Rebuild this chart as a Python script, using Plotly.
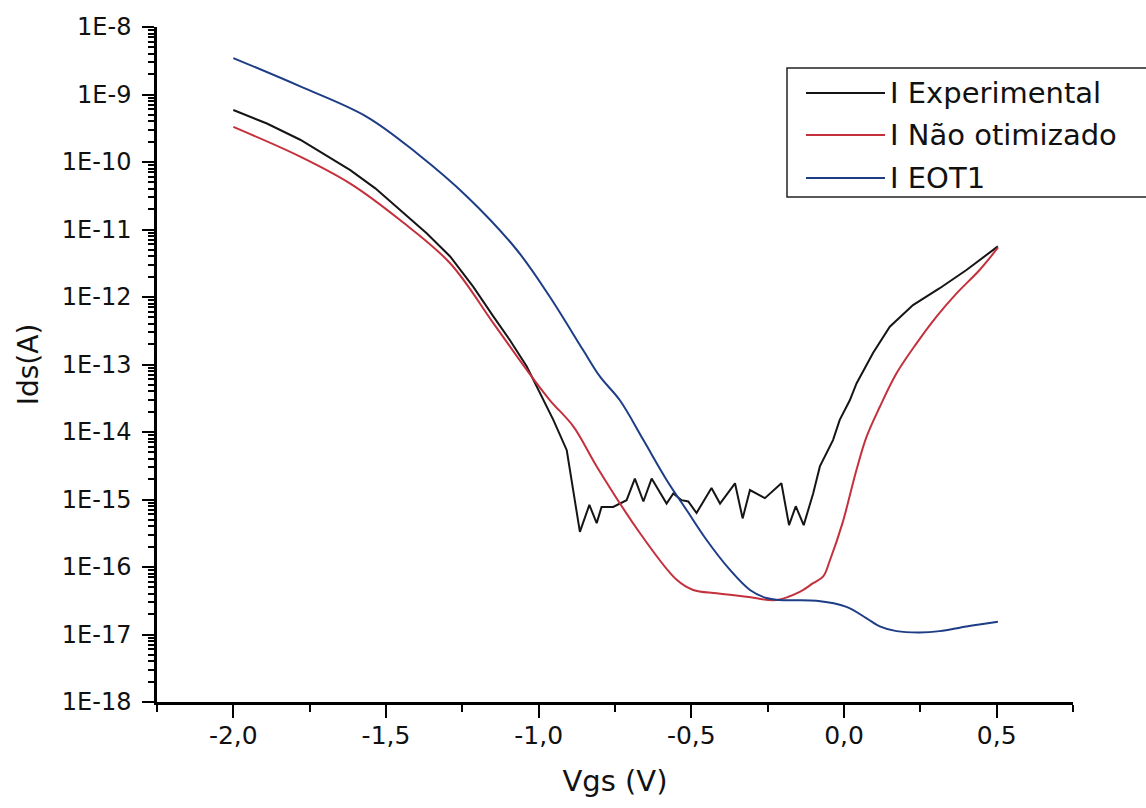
import numpy as np
import plotly.graph_objects as go

# ---------------- data ----------------
# Vgs in volts, Ids as log10(A)
vgs_exp = [-2.0, -1.89, -1.781, -1.699, -1.617, -1.535, -1.454, -1.366, -1.29, -1.214,
           -1.148, -1.094, -1.039, -0.995, -0.952, -0.908, -0.881, -0.865, -0.834, -0.810,
           -0.794, -0.756, -0.712, -0.685, -0.657, -0.630, -0.581, -0.559, -0.532, -0.510,
           -0.483, -0.434, -0.406, -0.357, -0.332, -0.308, -0.259, -0.205, -0.180, -0.158,
           -0.132, -0.101, -0.079, -0.057, -0.036, -0.014, 0.019, 0.041, 0.095, 0.150,
           0.226, 0.3135, 0.401, 0.504]
log_ids_exp = [-9.23, -9.43, -9.67, -9.90, -10.12, -10.39, -10.71, -11.06, -11.40, -11.85,
               -12.29, -12.64, -13.03, -13.43, -13.82, -14.27, -15.01, -15.48, -15.08, -15.35,
               -15.11, -15.11, -15.01, -14.69, -15.03, -14.69, -15.06, -14.91, -15.01, -15.03,
               -15.20, -14.83, -15.06, -14.76, -15.28, -14.86, -14.98, -14.76, -15.38, -15.10,
               -15.38, -14.91, -14.51, -14.32, -14.12, -13.82, -13.53, -13.28, -12.83, -12.44,
               -12.12, -11.87, -11.60, -11.25]

vgs_nao = [-2.0, -1.781, -1.617, -1.454, -1.29, -1.148, -1.039, -0.963, -0.886, -0.810,
           -0.668, -0.548, -0.494, -0.417, -0.319, -0.221, -0.145, -0.101, -0.068, -0.046,
           -0.005, 0.041, 0.074, 0.117, 0.172, 0.237, 0.303, 0.368, 0.444, 0.504]
log_ids_nao = [-9.48, -9.92, -10.32, -10.86, -11.50, -12.39, -13.08, -13.53, -13.92, -14.51,
               -15.50, -16.19, -16.34, -16.39, -16.44, -16.49, -16.37, -16.24, -16.14, -15.90,
               -15.35, -14.56, -14.07, -13.63, -13.13, -12.69, -12.29, -11.95, -11.60, -11.27]

vgs_eot1 = [-2.0, -1.781, -1.563, -1.399, -1.235, -1.072, -0.963, -0.854, -0.799, -0.734,
            -0.657, -0.581, -0.515, -0.450, -0.374, -0.308, -0.254, -0.21, -0.09, 0.008,
            0.074, 0.117, 0.172, 0.248, 0.3135, 0.401, 0.504]
log_ids_eot1 = [-8.46, -8.88, -9.33, -9.87, -10.51, -11.30, -12.00, -12.79, -13.18, -13.53,
                -14.12, -14.71, -15.16, -15.60, -16.04, -16.34, -16.46, -16.49, -16.50, -16.59,
                -16.76, -16.88, -16.95, -16.97, -16.95, -16.88, -16.81]

series_names = ["I Experimental", "I Não otimizado", "I EOT1"]
series_colors = ["#151515", "#c4303c", "#1d3d86"]

x_tick_vals = [-2.0, -1.5, -1.0, -0.5, 0.0, 0.5]
x_tick_text = ["-2,0", "-1,5", "-1,0", "-0,5", "0,0", "0,5"]
y_tick_vals = [1e-18, 1e-17, 1e-16, 1e-15, 1e-14, 1e-13, 1e-12, 1e-11, 1e-10, 1e-9, 1e-8]
y_tick_text = ["1E-18", "1E-17", "1E-16", "1E-15", "1E-14", "1E-13", "1E-12",
               "1E-11", "1E-10", "1E-9", "1E-8"]

# ---------------- figure ----------------
FONT = "DejaVu Sans"
W, H = 1146, 808
ML, MR, MT, MB = 157, 73, 27, 106

fig = go.Figure()
all_x = [vgs_exp, vgs_nao, vgs_eot1]
all_y = [log_ids_exp, log_ids_nao, log_ids_eot1]
shapes_ = ["linear", "spline", "spline"]
for xs, ys, name, col, shp in zip(all_x, all_y, series_names, series_colors, shapes_):
    fig.add_trace(go.Scatter(
        x=xs, y=[10 ** v for v in ys], mode="lines", name=name,
        line=dict(color=col, width=2, shape=shp, smoothing=1.0),
        showlegend=False,
    ))

x_minor = [v for v in np.arange(-2.25, 0.76, 0.25) if abs(v * 2 - round(v * 2)) > 1e-6]
y_minor = [k * 10.0 ** e for e in range(-18, -8) for k in range(2, 10)]

fig.update_xaxes(
    range=[-2.25, 0.75], showgrid=False, zeroline=False,
    showline=True, linecolor="black", linewidth=2.5,
    ticks="outside", ticklen=13, tickwidth=2, tickcolor="black",
    tickmode="array", tickvals=x_tick_vals, ticktext=x_tick_text,
    tickfont=dict(family=FONT, size=25, color="#111"),
    ticklabelstandoff=-4,
    minor=dict(tickmode="array", tickvals=x_minor, ticks="outside", ticklen=7,
               tickwidth=2, tickcolor="black"),
    title=dict(text="Vgs (V)", font=dict(family=FONT, size=29, color="#111"), standoff=22),
)
fig.update_yaxes(
    type="log", range=[-18, -8], showgrid=False, zeroline=False,
    showline=True, linecolor="black", linewidth=2.5,
    ticks="outside", ticklen=12, tickwidth=2, tickcolor="black",
    tickmode="array", tickvals=y_tick_vals, ticktext=y_tick_text,
    tickfont=dict(family=FONT, size=24, color="#111"),
    ticklabelstandoff=6,
    minor=dict(tickmode="array", tickvals=y_minor, ticks="outside", ticklen=6,
               tickwidth=1.5, tickcolor="black"),
    title=dict(text="Ids(A)", font=dict(family=FONT, size=28, color="#111"), standoff=16),
)

# ---------------- legend (drawn in paper coordinates) ----------------
pw, ph = W - ML - MR, H - MT - MB
def px_x(p):
    return (p - ML) / pw
def px_y(p):
    return (H - MB - p) / ph

shapes = [dict(type="rect", xref="paper", yref="paper",
               x0=px_x(787), x1=px_x(1152), y0=px_y(197), y1=px_y(68),
               line=dict(color="#222", width=1.5), fillcolor="rgba(0,0,0,0)")]
annotations = []
row_y = [93, 135, 178]
for ry, name, col in zip(row_y, series_names, series_colors):
    shapes.append(dict(type="line", xref="paper", yref="paper",
                       x0=px_x(806), x1=px_x(885), y0=px_y(ry), y1=px_y(ry),
                       line=dict(color=col, width=2)))
    annotations.append(dict(xref="paper", yref="paper", x=px_x(888), y=px_y(ry),
                            text=name, showarrow=False, xanchor="left", yanchor="middle",
                            font=dict(family=FONT, size=29, color="#111")))

fig.update_layout(
    width=W, height=H,
    margin=dict(l=ML, r=MR, t=MT, b=MB, autoexpand=False),
    paper_bgcolor="white", plot_bgcolor="white",
    shapes=shapes, annotations=annotations,
    showlegend=False,
)

fig.write_html("out.html")
